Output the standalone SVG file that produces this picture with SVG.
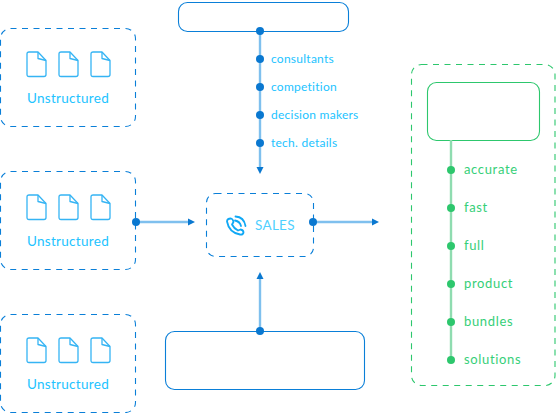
<svg xmlns="http://www.w3.org/2000/svg" width="556" height="413" viewBox="0 0 556 413">
<style>
.bb{fill:#fff;stroke:#0a7fd8;stroke-width:1.1}
.dash{fill:none;stroke:#0a7fd8;stroke-width:1.1;stroke-dasharray:6 5.500}
.gb{fill:#fff;stroke:#2dc76d;stroke-width:1.1}
.gd{fill:none;stroke:#2dc76d;stroke-width:1.1;stroke-dasharray:6 5.500}
.ln{fill:none;stroke:#7fc0ee;stroke-width:2.400}
.gl{fill:none;stroke:#8fdcb0;stroke-width:2.400}
.dot{fill:#0a78d0}
.gdot{fill:#2dc76d}
.arr{fill:#0a78d0}
.t{font-family:"Lato","Liberation Sans",sans-serif;font-size:12px;fill:#22c3ff;letter-spacing:.25px}
.g{font-family:"Lato","Liberation Sans",sans-serif;font-size:13px;fill:#36cf78;letter-spacing:.65px}
.u{font-family:"Lato","Liberation Sans",sans-serif;font-size:13.5px;fill:#22c3ff;text-anchor:middle;letter-spacing:.3px}
.s{font-family:"Lato","Liberation Sans",sans-serif;font-size:13.5px;fill:#4fd0ff;letter-spacing:.3px}
.doc{fill:none;stroke:#35b4f4;stroke-width:1.300;stroke-linejoin:round}
.ph{fill:none;stroke:#10a8f5;stroke-width:1.800;stroke-linecap:round;stroke-linejoin:round}
</style>
<defs>
<g id="doc"><path class="doc" d="M1 2.500Q1 .5 3 .5H12L20 9V23Q20 25 18 25H3Q1 25 1 23Z"/><path class="doc" d="M12 .5V7L20 9"/></g>
<g id="docs"><use href="#doc" x="26" y="0"/><use href="#doc" x="58" y="0"/><use href="#doc" x="90" y="0"/></g>
</defs>
<g id="connectors">
<path class="ln" d="M260 31V168"/>
<path class="arr" d="M256.500 167H263.500L260 174Z"/>
<path class="ln" d="M136 222H190"/>
<path class="arr" d="M188 218.500L195 222L188 225.500Z"/>
<path class="ln" d="M313 222H373"/>
<path class="arr" d="M372 218.500L379 222L372 225.500Z"/>
<path class="ln" d="M260 331V278"/>
<path class="arr" d="M256.500 279H263.500L260 272Z"/>
</g>
<g id="top-box"><rect class="bb" x="178.500" y="2.500" width="170" height="29" rx="9" style="fill:none"/></g>
<g id="bottom-box"><rect class="bb" x="165.500" y="331.500" width="199" height="58" rx="9" style="fill:none"/></g>
<g id="source-1"><rect class="dash" x="0.500" y="28.500" width="135" height="98" rx="10"/><use href="#docs" y="51.500"/><text class="u" x="68" y="103">Unstructured</text></g>
<g id="source-2"><rect class="dash" x="0.500" y="171.500" width="135" height="98" rx="10"/><use href="#docs" y="194.500"/><text class="u" x="68" y="246">Unstructured</text></g>
<g id="source-3"><rect class="dash" x="0.500" y="314.500" width="135" height="98" rx="10"/><use href="#docs" y="337.500"/><text class="u" x="68" y="389">Unstructured</text></g>
<g id="sales"><rect class="dash" x="206.500" y="193.500" width="107" height="63" rx="9"/>
<path class="ph" d="M227 221.500Q227 218.500 231 218.500Q233 219 233.500 222L232 224.500Q234 228.500 238 230.500L240.500 229.500Q243.500 230 243.500 232.500Q243 235 240 234.500Q229 232.500 227 221.500Z"/>
<path class="ph" d="M235 220.500Q240 221.500 241 226M235.500 216.500Q244 217 245.500 226"/>
<text class="s" x="255" y="230">SALES</text></g>
<g id="top-labels">
<circle class="dot" cx="260" cy="31" r="4"/><circle class="dot" cx="260" cy="59" r="4"/><circle class="dot" cx="260" cy="87" r="4"/><circle class="dot" cx="260" cy="115" r="4"/><circle class="dot" cx="260" cy="143" r="4"/>
<text class="t" x="271" y="63">consultants</text><text class="t" x="271" y="91">competition</text><text class="t" x="271" y="119">decision makers</text><text class="t" x="271" y="147">tech. details</text>
</g>
<circle class="dot" cx="136" cy="222" r="4"/><circle class="dot" cx="313" cy="222" r="4"/><circle class="dot" cx="260" cy="331" r="4"/>
<g id="result"><rect class="gd" x="411.500" y="64.500" width="143.500" height="321" rx="10"/><rect class="gb" x="427.500" y="82.500" width="112" height="58" rx="9"/>
<path class="gl" d="M451 140V360"/>
<circle class="gdot" cx="451" cy="170" r="4"/><circle class="gdot" cx="451" cy="208" r="4"/><circle class="gdot" cx="451" cy="246" r="4"/><circle class="gdot" cx="451" cy="284" r="4"/><circle class="gdot" cx="451" cy="322" r="4"/><circle class="gdot" cx="451" cy="360" r="4"/>
<text class="g" x="464" y="174">accurate</text><text class="g" x="464" y="212">fast</text><text class="g" x="464" y="250">full</text><text class="g" x="464" y="288">product</text><text class="g" x="464" y="326">bundles</text><text class="g" x="464" y="364">solutions</text>
</g>
</svg>
